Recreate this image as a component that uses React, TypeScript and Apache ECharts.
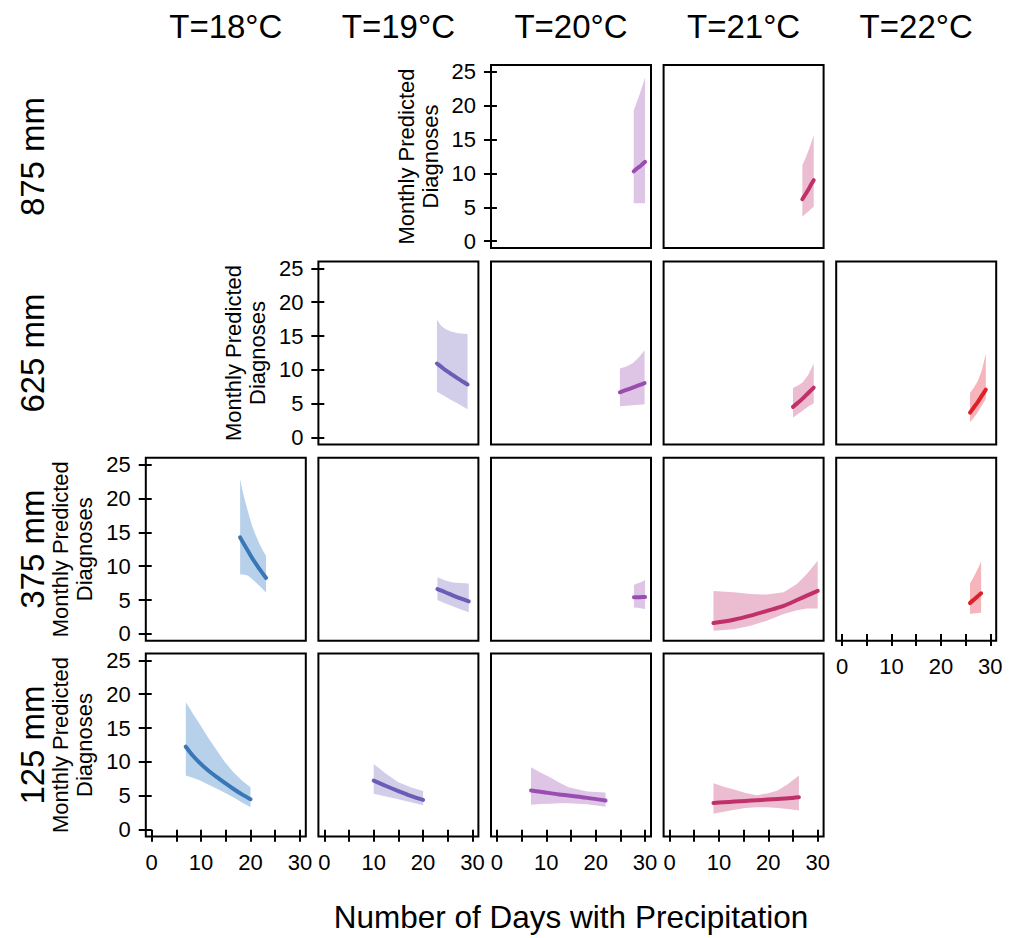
import React, { useEffect, useRef } from "react";
import * as echarts from "echarts";

// ---------- labels ----------
const temps = ["T=18°C", "T=19°C", "T=20°C", "T=21°C", "T=22°C"];
const rains = ["875 mm", "625 mm", "375 mm", "125 mm"];
const xTickValues = [0, 5, 10, 15, 20, 25, 30];
const xLabelValues = [0, 10, 20, 30];
const yTickValues = [0, 5, 10, 15, 20, 25];
const yTitleLine1 = "Monthly Predicted";
const yTitleLine2 = "Diagnoses";
const xTitle = "Number of Days with Precipitation";

// ---------- data (days with precipitation, mean, lower CI, upper CI) ----------
// 875 mm
const r875t20X = [27.7, 28.3, 28.9, 29.5, 30.0];
const r875t20Mean = [10.3, 10.7, 11.0, 11.4, 11.7];
const r875t20Lo = [5.6, 5.6, 5.6, 5.6, 5.6];
const r875t20Hi = [19.3, 20.5, 21.7, 23.0, 24.2];

const r875t21X = [26.9, 27.5, 28.1, 28.7, 29.2];
const r875t21Mean = [6.2, 6.9, 7.6, 8.4, 9.0];
const r875t21Lo = [3.6, 4.0, 4.4, 4.8, 5.1];
const r875t21Hi = [11.2, 12.2, 13.3, 14.5, 15.6];

// 625 mm
const r625t19X = [22.8, 23.7, 24.6, 25.5, 27.0, 29.0];
const r625t19Mean = [10.95, 10.45, 9.95, 9.5, 8.75, 7.85];
const r625t19Lo = [6.8, 6.4, 6.05, 5.65, 5.05, 4.2];
const r625t19Hi = [17.4, 16.5, 16.0, 15.7, 15.4, 15.3];

const r625t20X = [24.9, 26.2, 27.5, 28.8, 29.9];
const r625t20Mean = [6.7, 7.05, 7.4, 7.75, 8.05];
const r625t20Lo = [4.65, 4.7, 4.8, 4.85, 4.95];
const r625t20Hi = [10.2, 10.5, 11.0, 11.9, 12.9];

const r625t21X = [25.0, 26.0, 27.0, 28.1, 29.2];
const r625t21Mean = [4.55, 5.15, 5.8, 6.6, 7.4];
const r625t21Lo = [3.0, 3.5, 4.0, 4.6, 5.1];
const r625t21Hi = [7.35, 7.7, 8.2, 9.3, 10.95];

const r625t22X = [25.9, 26.7, 27.5, 28.3, 29.1];
const r625t22Mean = [3.7, 4.5, 5.3, 6.2, 7.1];
const r625t22Lo = [2.3, 3.0, 3.8, 4.8, 5.7];
const r625t22Hi = [6.6, 7.4, 8.4, 10.0, 12.4];

// 375 mm
const r375t18X = [17.9, 18.55, 19.2, 19.85, 20.5, 21.15, 21.8, 22.5, 23.15];
const r375t18Mean = [14.25, 13.4, 12.6, 11.8, 11.0, 10.3, 9.6, 8.9, 8.25];
const r375t18Lo = [8.75, 8.75, 8.7, 8.4, 8.0, 7.55, 7.1, 6.6, 6.1];
const r375t18Hi = [22.85, 20.6, 18.8, 17.1, 15.6, 14.4, 13.3, 12.3, 11.5];

const r375t19X = [22.9, 24.5, 26.1, 27.7, 29.25];
const r375t19Mean = [6.6, 6.15, 5.65, 5.2, 4.8];
const r375t19Lo = [5.0, 4.5, 4.05, 3.6, 3.2];
const r375t19Hi = [8.35, 7.9, 7.6, 7.5, 7.45];

const r375t20X = [27.75, 28.4, 29.0, 29.6, 30.0];
const r375t20Mean = [5.4, 5.41, 5.42, 5.44, 5.45];
const r375t20Lo = [3.9, 3.85, 3.8, 3.72, 3.68];
const r375t20Hi = [7.25, 7.45, 7.6, 7.8, 7.95];

const r375t21X = [8.9, 13.0, 16.4, 19.7, 23.1, 25.8, 27.8, 30.0];
const r375t21Mean = [1.6, 2.1, 2.7, 3.4, 4.15, 5.0, 5.65, 6.35];
const r375t21Lo = [0.45, 0.7, 1.2, 1.95, 2.95, 3.5, 3.75, 3.75];
const r375t21Hi = [6.35, 6.15, 5.9, 5.8, 6.15, 7.35, 8.85, 10.8];

const r375t22X = [25.9, 26.5, 27.0, 27.6, 28.15];
const r375t22Mean = [4.55, 4.95, 5.25, 5.65, 6.0];
const r375t22Lo = [2.95, 3.0, 3.05, 3.1, 3.15];
const r375t22Hi = [7.45, 8.2, 8.9, 9.8, 10.7];

// 125 mm
const r125t18X = [6.9, 8.3, 9.8, 11.5, 13.2, 14.8, 16.5, 18.2, 20.0];
const r125t18Mean = [12.25, 10.95, 9.8, 8.7, 7.75, 6.9, 6.05, 5.25, 4.5];
const r125t18Lo = [8.0, 7.65, 7.25, 6.65, 6.05, 5.45, 4.8, 4.05, 3.3];
const r125t18Hi = [18.8, 17.2, 15.5, 13.5, 11.7, 10.0, 8.5, 7.3, 6.25];

const r125t19X = [10.0, 12.5, 15.0, 17.5, 20.0];
const r125t19Mean = [7.25, 6.45, 5.7, 5.0, 4.4];
const r125t19Lo = [5.3, 4.9, 4.5, 4.05, 3.6];
const r125t19Hi = [9.7, 8.25, 7.0, 6.25, 5.7];

const r125t20X = [6.9, 8.8, 10.75, 12.6, 14.5, 18.3, 22.0];
const r125t20Mean = [5.8, 5.6, 5.4, 5.2, 5.05, 4.7, 4.3];
const r125t20Lo = [3.7, 3.8, 3.85, 3.9, 3.9, 3.75, 3.4];
const r125t20Hi = [9.2, 8.45, 7.75, 6.95, 6.25, 5.65, 5.5];

const r125t21X = [8.9, 11.0, 13.2, 15.4, 17.6, 19.8, 21.9, 24.0, 26.2];
const r125t21Mean = [3.95, 4.05, 4.15, 4.25, 4.35, 4.45, 4.55, 4.65, 4.8];
const r125t21Lo = [2.35, 2.65, 2.95, 3.2, 3.3, 3.3, 3.2, 3.05, 2.85];
const r125t21Hi = [6.85, 6.35, 5.9, 5.4, 5.1, 5.35, 5.8, 6.75, 8.0];

// ---------- styling ----------
const lineColors = ["#3a77b6", "#6a5db5", "#9a4db0", "#c0306a", "#df1f2a"];
const bandColors = ["#b8d1ea", "#d2cee9", "#dec5e6", "#ecbcd0", "#f6b5ba"];
const FONT = "'Liberation Sans', Arial, Helvetica, sans-serif";

const colLeft = [145.8, 318.4, 491.0, 663.6, 836.2];
const rowTop = [65, 261.5, 457.7, 653.5];
const PW = 160;
const PH = 183;

type Panel = {
  row: number;
  col: number;
  x: number[];
  mean: number[];
  lo: number[];
  hi: number[];
  showY?: boolean;
  showX?: boolean;
};

const panels: Panel[] = [
  { row: 0, col: 2, x: r875t20X, mean: r875t20Mean, lo: r875t20Lo, hi: r875t20Hi, showY: true },
  { row: 0, col: 3, x: r875t21X, mean: r875t21Mean, lo: r875t21Lo, hi: r875t21Hi },
  { row: 1, col: 1, x: r625t19X, mean: r625t19Mean, lo: r625t19Lo, hi: r625t19Hi, showY: true },
  { row: 1, col: 2, x: r625t20X, mean: r625t20Mean, lo: r625t20Lo, hi: r625t20Hi },
  { row: 1, col: 3, x: r625t21X, mean: r625t21Mean, lo: r625t21Lo, hi: r625t21Hi },
  { row: 1, col: 4, x: r625t22X, mean: r625t22Mean, lo: r625t22Lo, hi: r625t22Hi },
  { row: 2, col: 0, x: r375t18X, mean: r375t18Mean, lo: r375t18Lo, hi: r375t18Hi, showY: true },
  { row: 2, col: 1, x: r375t19X, mean: r375t19Mean, lo: r375t19Lo, hi: r375t19Hi },
  { row: 2, col: 2, x: r375t20X, mean: r375t20Mean, lo: r375t20Lo, hi: r375t20Hi },
  { row: 2, col: 3, x: r375t21X, mean: r375t21Mean, lo: r375t21Lo, hi: r375t21Hi },
  { row: 2, col: 4, x: r375t22X, mean: r375t22Mean, lo: r375t22Lo, hi: r375t22Hi, showX: true },
  { row: 3, col: 0, x: r125t18X, mean: r125t18Mean, lo: r125t18Lo, hi: r125t18Hi, showY: true, showX: true },
  { row: 3, col: 1, x: r125t19X, mean: r125t19Mean, lo: r125t19Lo, hi: r125t19Hi, showX: true },
  { row: 3, col: 2, x: r125t20X, mean: r125t20Mean, lo: r125t20Lo, hi: r125t20Hi, showX: true },
  { row: 3, col: 3, x: r125t21X, mean: r125t21Mean, lo: r125t21Lo, hi: r125t21Hi, showX: true },
];

function buildOption() {
  const grid: any[] = [];
  const xAxis: any[] = [];
  const yAxis: any[] = [];
  const series: any[] = [];
  const graphic: any[] = [];

  const textStyle = (text: string, size: number) => ({
    text,
    fontSize: size,
    fontFamily: FONT,
    fill: "#000",
    textAlign: "center",
    textVerticalAlign: "middle",
    align: "center",
    verticalAlign: "middle",
  });

  panels.forEach((p, i) => {
    grid.push({
      left: colLeft[p.col],
      top: rowTop[p.row],
      width: PW,
      height: PH,
      show: true,
      borderColor: "#000",
      borderWidth: 2,
      backgroundColor: "transparent",
      containLabel: false,
    });
    xAxis.push({
      type: "value",
      gridIndex: i,
      min: -1.2,
      max: 31.2,
      axisLine: { show: false },
      axisTick: {
        show: !!p.showX,
        length: 12,
        lineStyle: { color: "#000", width: 2 },
        customValues: xTickValues,
      },
      axisLabel: {
        show: !!p.showX,
        customValues: xLabelValues,
        fontSize: 22,
        fontFamily: FONT,
        color: "#000",
        margin: 15,
      },
      splitLine: { show: false },
    });
    yAxis.push({
      type: "value",
      gridIndex: i,
      min: -1,
      max: 26,
      axisLine: { show: false },
      axisTick: {
        show: !!p.showY,
        length: 13,
        lineStyle: { color: "#000", width: 2 },
        customValues: yTickValues,
      },
      axisLabel: {
        show: !!p.showY,
        customValues: yTickValues,
        fontSize: 22,
        fontFamily: FONT,
        color: "#000",
        margin: 15,
      },
      splitLine: { show: false },
    });

    // confidence band: polygon through the band's upper then lower bounds
    const band = bandColors[p.col];
    series.push({
      type: "custom",
      xAxisIndex: i,
      yAxisIndex: i,
      data: p.x.map((x, k) => [x, p.lo[k], p.hi[k]]),
      encode: { x: 0, y: [1, 2] },
      silent: true,
      z: 1,
      renderItem: (params: any, api: any) => {
        if (params.dataIndex !== 0) return null;
        const n = p.x.length;
        const upper: number[][] = [];
        const lower: number[][] = [];
        for (let k = 0; k < n; k++) {
          upper.push(api.coord([p.x[k], p.hi[k]]));
          lower.push(api.coord([p.x[k], p.lo[k]]));
        }
        lower.reverse();
        return {
          type: "polygon",
          shape: { points: upper.concat(lower) },
          style: { fill: band, stroke: "none" },
        };
      },
    });
    series.push({
      type: "line",
      xAxisIndex: i,
      yAxisIndex: i,
      data: p.x.map((x, k) => [x, p.mean[k]]),
      symbol: "none",
      smooth: 0.3,
      lineStyle: { color: lineColors[p.col], width: 4, cap: "round", join: "round" },
      silent: true,
      z: 3,
    });

    if (p.showY) {
      const cy = rowTop[p.row] + PH / 2;
      graphic.push({
        type: "text",
        x: colLeft[p.col] - 85,
        y: cy,
        rotation: Math.PI / 2,
        style: textStyle(yTitleLine1, 22),
      });
      graphic.push({
        type: "text",
        x: colLeft[p.col] - 61,
        y: cy,
        rotation: Math.PI / 2,
        style: textStyle(yTitleLine2, 22),
      });
    }
  });

  temps.forEach((t, c) => {
    graphic.push({
      type: "text",
      x: colLeft[c] + PW / 2,
      y: 26,
      style: textStyle(t, 33),
    });
  });
  rains.forEach((r, k) => {
    graphic.push({
      type: "text",
      x: 32,
      y: rowTop[k] + PH / 2,
      rotation: Math.PI / 2,
      style: textStyle(r, 33),
    });
  });
  graphic.push({
    type: "text",
    x: 571,
    y: 917,
    style: textStyle(xTitle, 31.5),
  });

  return {
    animation: false,
    backgroundColor: "#fff",
    grid,
    xAxis,
    yAxis,
    series,
    graphic,
  };
}

export default function App() {
  const ref = useRef<HTMLDivElement>(null);
  useEffect(() => {
    if (!ref.current) return;
    const chart = echarts.init(ref.current, undefined, { renderer: "svg" });
    chart.setOption(buildOption() as any);
    return () => chart.dispose();
  }, []);
  return (
    <div
      ref={ref}
      style={{ position: "absolute", left: 0, top: 0, width: 1016, height: 938, background: "#fff" }}
    />
  );
}
